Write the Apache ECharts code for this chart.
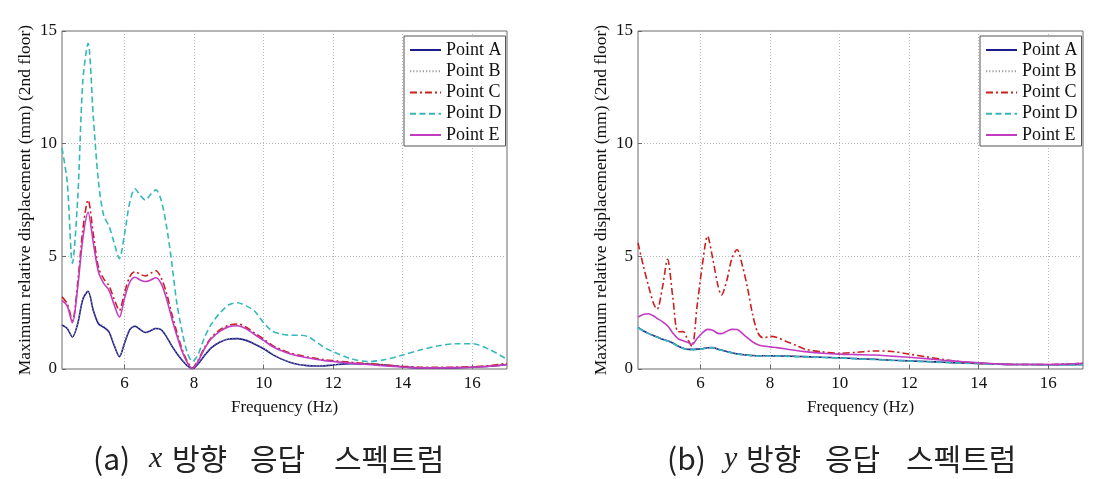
<!DOCTYPE html>
<html>
<head>
<meta charset="utf-8">
<script src="https://cdn.jsdelivr.net/npm/echarts@6/dist/echarts.min.js"></script>
<style>
html,body{margin:0;padding:0;background:#fff;}
#c{width:1103px;height:479px;}
</style>
</head>
<body>
<div id="c"></div>
<script>
// ---------- DATA ----------
const seriesNames = ['Point A', 'Point B', 'Point C', 'Point D', 'Point E'];
const yTicks = [0, 5, 10, 15];
const xTickLabels = [6, 8, 10, 12, 14, 16];

// (a) x-direction
const freqX = [4.2,4.35,4.5,4.65,4.8,4.95,5.1,5.25,5.4,5.55,5.7,5.85,6.0,6.15,6.3,6.45,6.6,6.75,6.9,7.05,7.2,7.35,7.5,7.65,7.8,7.95,8.1,8.3,8.5,8.75,9.0,9.25,9.5,9.75,10.0,10.25,10.5,10.75,11.0,11.25,11.5,11.75,12.0,12.5,13.0,13.5,14.0,14.5,15.0,15.5,16.0,16.5,17.0];
const xA = [1.95,1.8,1.42,2.0,3.1,3.45,2.6,2.0,1.85,1.65,1.05,0.55,1.15,1.75,1.9,1.75,1.62,1.7,1.8,1.75,1.45,1.05,0.7,0.4,0.15,0.02,0.2,0.6,0.95,1.2,1.33,1.35,1.27,1.1,0.9,0.65,0.45,0.3,0.2,0.15,0.13,0.14,0.18,0.24,0.22,0.18,0.1,0.04,0.03,0.05,0.08,0.12,0.2];
const xB = [1.97,1.82,1.44,2.02,3.12,3.47,2.65,2.08,1.92,1.7,1.08,0.57,1.18,1.78,1.93,1.78,1.64,1.72,1.82,1.77,1.47,1.07,0.72,0.41,0.16,0.03,0.21,0.62,0.97,1.22,1.35,1.37,1.29,1.12,0.92,0.67,0.47,0.31,0.21,0.16,0.14,0.15,0.19,0.25,0.23,0.19,0.11,0.05,0.04,0.06,0.09,0.13,0.21];
const xC = [3.2,2.9,2.15,3.8,6.2,7.5,6.0,4.5,4.0,3.7,3.1,2.6,3.4,4.1,4.32,4.2,4.13,4.25,4.36,4.05,3.4,2.5,1.65,0.9,0.35,0.05,0.35,0.95,1.4,1.75,1.95,2.0,1.85,1.58,1.33,1.05,0.87,0.72,0.62,0.54,0.47,0.41,0.37,0.3,0.24,0.18,0.12,0.08,0.07,0.08,0.1,0.15,0.25];
const xD = [9.8,8.3,4.7,7.5,12.8,14.45,11.2,8.3,6.8,6.35,5.6,4.9,6.0,7.4,8.0,7.7,7.5,7.75,7.95,7.5,6.4,4.8,2.95,1.7,0.75,0.33,0.6,1.4,2.0,2.5,2.85,2.94,2.8,2.55,2.05,1.68,1.55,1.5,1.5,1.45,1.22,0.95,0.77,0.46,0.33,0.42,0.62,0.84,1.02,1.12,1.12,0.86,0.43];
const xE = [3.05,2.8,2.05,3.6,5.8,6.95,5.6,4.3,3.8,3.5,2.85,2.3,3.15,3.85,4.07,3.95,3.88,3.95,4.05,3.8,3.15,2.3,1.5,0.8,0.3,0.02,0.3,0.9,1.35,1.68,1.88,1.92,1.78,1.52,1.27,1.0,0.82,0.68,0.58,0.5,0.43,0.37,0.33,0.26,0.2,0.14,0.09,0.05,0.05,0.06,0.08,0.12,0.2];

// (b) y-direction
const freqY = [4.2,4.35,4.5,4.65,4.75,4.9,5.05,5.2,5.35,5.5,5.6,5.75,5.9,6.05,6.2,6.35,6.5,6.6,6.75,6.9,7.05,7.2,7.35,7.5,7.65,7.8,8.0,8.2,8.5,8.75,9.0,9.5,10.0,10.5,11.0,11.5,12.0,12.5,13.0,13.5,14.0,14.5,15.0,15.5,16.0,16.5,17.0];
const yA = [1.85,1.7,1.58,1.48,1.42,1.32,1.25,1.15,1.02,0.92,0.88,0.87,0.88,0.9,0.94,0.95,0.88,0.84,0.78,0.72,0.67,0.64,0.62,0.6,0.59,0.59,0.59,0.58,0.57,0.56,0.55,0.52,0.5,0.46,0.43,0.39,0.36,0.33,0.3,0.27,0.25,0.22,0.2,0.2,0.19,0.19,0.2];
const yB = [1.86,1.71,1.59,1.49,1.43,1.33,1.26,1.16,1.03,0.93,0.89,0.88,0.89,0.91,0.95,0.96,0.89,0.85,0.79,0.73,0.68,0.65,0.63,0.61,0.6,0.6,0.6,0.59,0.58,0.57,0.56,0.53,0.51,0.47,0.44,0.4,0.37,0.34,0.31,0.28,0.26,0.23,0.21,0.21,0.2,0.2,0.21];
const yC = [5.6,4.6,3.7,2.9,2.65,3.6,4.87,3.2,1.65,1.66,1.4,1.0,2.8,4.6,5.9,4.9,3.7,3.28,3.9,4.9,5.3,4.6,3.6,2.4,1.6,1.38,1.45,1.4,1.2,1.05,0.88,0.76,0.7,0.74,0.8,0.78,0.66,0.54,0.42,0.32,0.25,0.22,0.2,0.2,0.2,0.22,0.25];
const yD = [1.83,1.69,1.57,1.47,1.41,1.31,1.24,1.14,1.01,0.91,0.87,0.86,0.87,0.89,0.93,0.94,0.87,0.83,0.77,0.71,0.66,0.63,0.61,0.59,0.58,0.58,0.58,0.57,0.56,0.55,0.54,0.51,0.49,0.45,0.42,0.38,0.35,0.32,0.29,0.26,0.24,0.21,0.19,0.19,0.18,0.18,0.19];
const yE = [2.3,2.42,2.45,2.35,2.25,2.1,1.92,1.6,1.35,1.25,1.2,1.1,1.35,1.6,1.76,1.72,1.58,1.57,1.67,1.76,1.75,1.58,1.38,1.2,1.08,1.02,0.98,0.95,0.88,0.82,0.77,0.7,0.66,0.64,0.62,0.57,0.52,0.46,0.39,0.33,0.28,0.23,0.2,0.2,0.2,0.22,0.25];

const captionA = ['(a)', 'x', '방향', '응답', '스펙트럼'];
const captionB = ['(b)', 'y', '방향', '응답', '스펙트럼'];
const xAxisTitle = 'Frequency (Hz)';
const yAxisTitle = 'Maximum relative displacement (mm) (2nd floor)';

// ---------- STYLE ----------
const SERIF = '"Liberation Serif","DejaVu Serif",serif';
const styles = [
  {color: '#1c1c8c', type: 'solid', width: 1.6},
  {color: '#9a9a9a', type: [1.2, 2], width: 1},
  {color: '#cc1f1f', type: [7, 3, 2, 3], width: 1.6},
  {color: '#35b8b8', type: [6, 3.5], width: 1.6},
  {color: '#c23cc2', type: 'solid', width: 1.6}
];

function pairs(f, v) { return f.map((x, i) => [x, v[i]]); }

function makeSeries(freq, arrs, gi) {
  return arrs.map((arr, i) => ({
    name: seriesNames[i],
    type: 'line',
    xAxisIndex: gi, yAxisIndex: gi,
    data: pairs(freq, arr),
    smooth: 0.3,
    symbol: 'none',
    showSymbol: false,
    silent: true,
    animation: false,
    z: 2 + i,
    lineStyle: {color: styles[i].color, type: styles[i].type, width: styles[i].width},
    itemStyle: {color: styles[i].color}
  }));
}

const grids = [
  {left: 62, top: 31, width: 445, height: 338, show: true, borderColor: '#6a6a6a', borderWidth: 1, backgroundColor: '#fff'},
  {left: 638, top: 31, width: 445, height: 338, show: true, borderColor: '#6a6a6a', borderWidth: 1, backgroundColor: '#fff'}
];

function xAxisFor(gi) {
  return {
    gridIndex: gi, type: 'value', min: 4.2, max: 17, splitNumber: 6,
    name: xAxisTitle, nameLocation: 'middle', nameGap: 30,
    nameTextStyle: {fontFamily: SERIF, fontSize: 17, color: '#111'},
    axisLine: {show: false},
    axisTick: {show: true, inside: true, length: 4, lineStyle: {color: '#6a6a6a'}},
    axisLabel: {
      fontFamily: SERIF, fontSize: 17, color: '#111', margin: 6,
      showMinLabel: false, showMaxLabel: false,
      formatter: v => (xTickLabels.indexOf(Math.round(v * 1000) / 1000) >= 0 ? String(v) : '')
    },
    splitLine: {show: true, showMinLine: false, showMaxLine: false, lineStyle: {color: '#b8b8b8', type: [1, 2], width: 1}}
  };
}
function yAxisFor(gi) {
  return {
    gridIndex: gi, type: 'value', min: yTicks[0], max: yTicks[yTicks.length - 1], interval: 5,
    name: yAxisTitle, nameLocation: 'middle', nameGap: 28,
    nameTextStyle: {fontFamily: SERIF, fontSize: 17.5, color: '#111'},
    axisLine: {show: false},
    axisTick: {show: true, inside: true, length: 4, lineStyle: {color: '#6a6a6a'}},
    axisLabel: {fontFamily: SERIF, fontSize: 17, color: '#111', margin: 5},
    splitLine: {show: true, showMinLine: false, showMaxLine: false, lineStyle: {color: '#b8b8b8', type: [1, 2], width: 1}}
  };
}

function legendFor(left) {
  return {
    orient: 'vertical', left: left, top: 36,
    data: seriesNames,
    backgroundColor: '#fff', borderColor: '#555', borderWidth: 1, borderRadius: 0,
    padding: [5, 4, 2, 5],
    itemWidth: 31, itemHeight: 14, itemGap: 3.25,
    selectedMode: false,
    itemStyle: {opacity: 0, borderWidth: 0},
    textStyle: {fontFamily: SERIF, fontSize: 18, color: '#111', lineHeight: 18}
  };
}

function captionGraphics(parts, xs) {
  const fonts = [
    {fontFamily: '"Noto Sans CJK KR","Noto Sans",sans-serif', fontStyle: 'normal'},
    {fontFamily: SERIF, fontStyle: 'italic'},
    {fontFamily: '"Noto Sans CJK KR",sans-serif', fontStyle: 'normal'},
    {fontFamily: '"Noto Sans CJK KR",sans-serif', fontStyle: 'normal'},
    {fontFamily: '"Noto Sans CJK KR",sans-serif', fontStyle: 'normal'}
  ];
  return parts.map((t, i) => ({
    type: 'text', left: xs[i], top: 444, silent: true,
    style: {text: t, fontSize: 30, fontFamily: fonts[i].fontFamily, fontStyle: fonts[i].fontStyle, fill: '#222'}
  }));
}

const chart = echarts.init(document.getElementById('c'), null, {renderer: 'canvas'});
chart.setOption({
  animation: false,
  backgroundColor: '#fff',
  grid: grids,
  xAxis: [xAxisFor(0), xAxisFor(1)],
  yAxis: [yAxisFor(0), yAxisFor(1)],
  legend: [legendFor(404), legendFor(980)],
  series: [].concat(
    makeSeries(freqX, [xA, xB, xC, xD, xE], 0),
    makeSeries(freqY, [yA, yB, yC, yD, yE], 1)
  ),
  graphic: [].concat(
    captionGraphics(captionA, [93, 149, 172, 250, 334]),
    captionGraphics(captionB, [667, 724, 746, 825, 906])
  )
});
</script>
</body>
</html>
